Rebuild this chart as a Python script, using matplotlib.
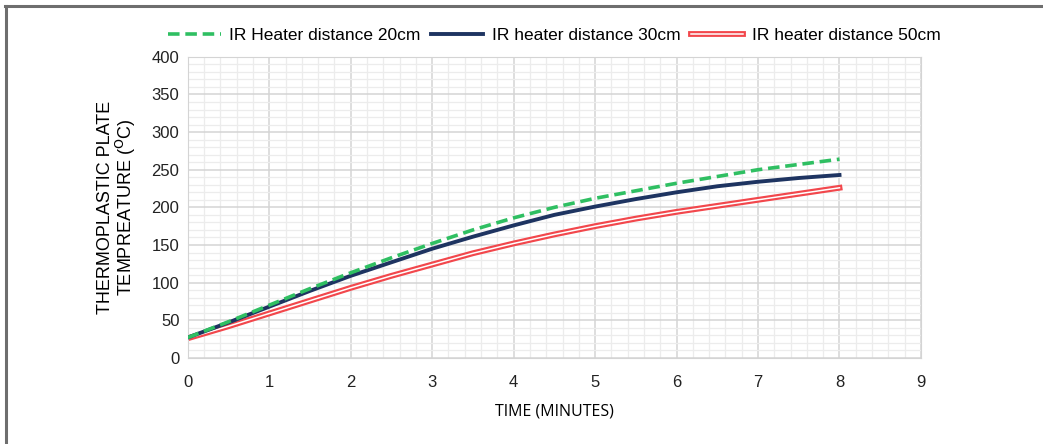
import numpy as np
import matplotlib.pyplot as plt
import matplotlib.patheffects as pe
from matplotlib.ticker import MultipleLocator
from matplotlib.lines import Line2D

# Data
time_min = [0, 0.5, 1, 1.5, 2, 2.5, 3, 3.5, 4, 4.5, 5, 5.5, 6, 6.5, 7, 7.5, 8]
temp_20cm = [27, 48, 70, 92, 113, 133, 152, 170, 186, 200, 212, 222, 232, 241, 250, 257, 264]
temp_30cm = [27, 47, 68, 89, 109, 127, 145, 161, 176, 190, 201, 211, 220, 228, 234, 239, 243]
temp_50cm = [26, 42, 59, 76, 93, 109, 124, 139, 152, 164, 175, 185, 194, 202, 210, 218, 226]
labels = ['IR Heater distance 20cm', 'IR heater distance 30cm', 'IR heater distance 50cm']

plt.rcParams['font.family'] = ['Liberation Sans', 'DejaVu Sans']

fig = plt.figure(figsize=(10.43, 4.44), dpi=100)
ax = fig.add_axes([0.180, 0.194, 0.703, 0.678])

# Outer frame (top and left)
fig.add_artist(Line2D([0.005, 1.0], [0.987, 0.987], color='#6e6e6e', lw=2.2, transform=fig.transFigure))
fig.add_artist(Line2D([0.0055, 0.0055], [0.0, 0.987], color='#6e6e6e', lw=2.2, transform=fig.transFigure))

ax.plot(time_min, temp_20cm, color='#2fbf62', lw=2.6, ls=(0, (3.2, 1.6)), label=labels[0], zorder=4)
ax.plot(time_min, temp_30cm, color='#1e3461', lw=2.8, label=labels[1], zorder=3)
ax.plot(time_min, temp_50cm, color='white', lw=1.1, label=labels[2], zorder=2,
        path_effects=[pe.Stroke(linewidth=4.2, foreground='#f2474c'), pe.Normal()])

ax.set_xlim(0, 9)
ax.set_ylim(0, 400)
ax.xaxis.set_major_locator(MultipleLocator(1))
ax.xaxis.set_minor_locator(MultipleLocator(0.2))
ax.yaxis.set_major_locator(MultipleLocator(50))
ax.yaxis.set_minor_locator(MultipleLocator(10))
ax.grid(which='major', color='#d4d4d4', lw=1.1)
ax.grid(which='minor', color='#ececec', lw=0.9)
ax.set_axisbelow(True)
for s in ax.spines.values():
    s.set_color('#d4d4d4')
ax.tick_params(which='both', length=0, labelsize=12, colors='#222222', pad=6)
ax.tick_params(axis='x', pad=12)

ax.set_xlabel('TIME (MINUTES)', fontsize=11.5, family=['Open Sans', 'DejaVu Sans'], labelpad=10)
ax.set_ylabel('THERMOPLASTIC PLATE\nTEMPREATURE ($^{\\mathrm{O}}$C)', fontsize=13, labelpad=10,
              linespacing=1.0)

ax.legend(loc='lower center', bbox_to_anchor=(0.5, 1.01), ncol=3, frameon=False,
          fontsize=12.5, handlelength=3.0, columnspacing=0.6, handletextpad=0.5, borderaxespad=0.2)

fig.savefig('out.png', dpi=100)
